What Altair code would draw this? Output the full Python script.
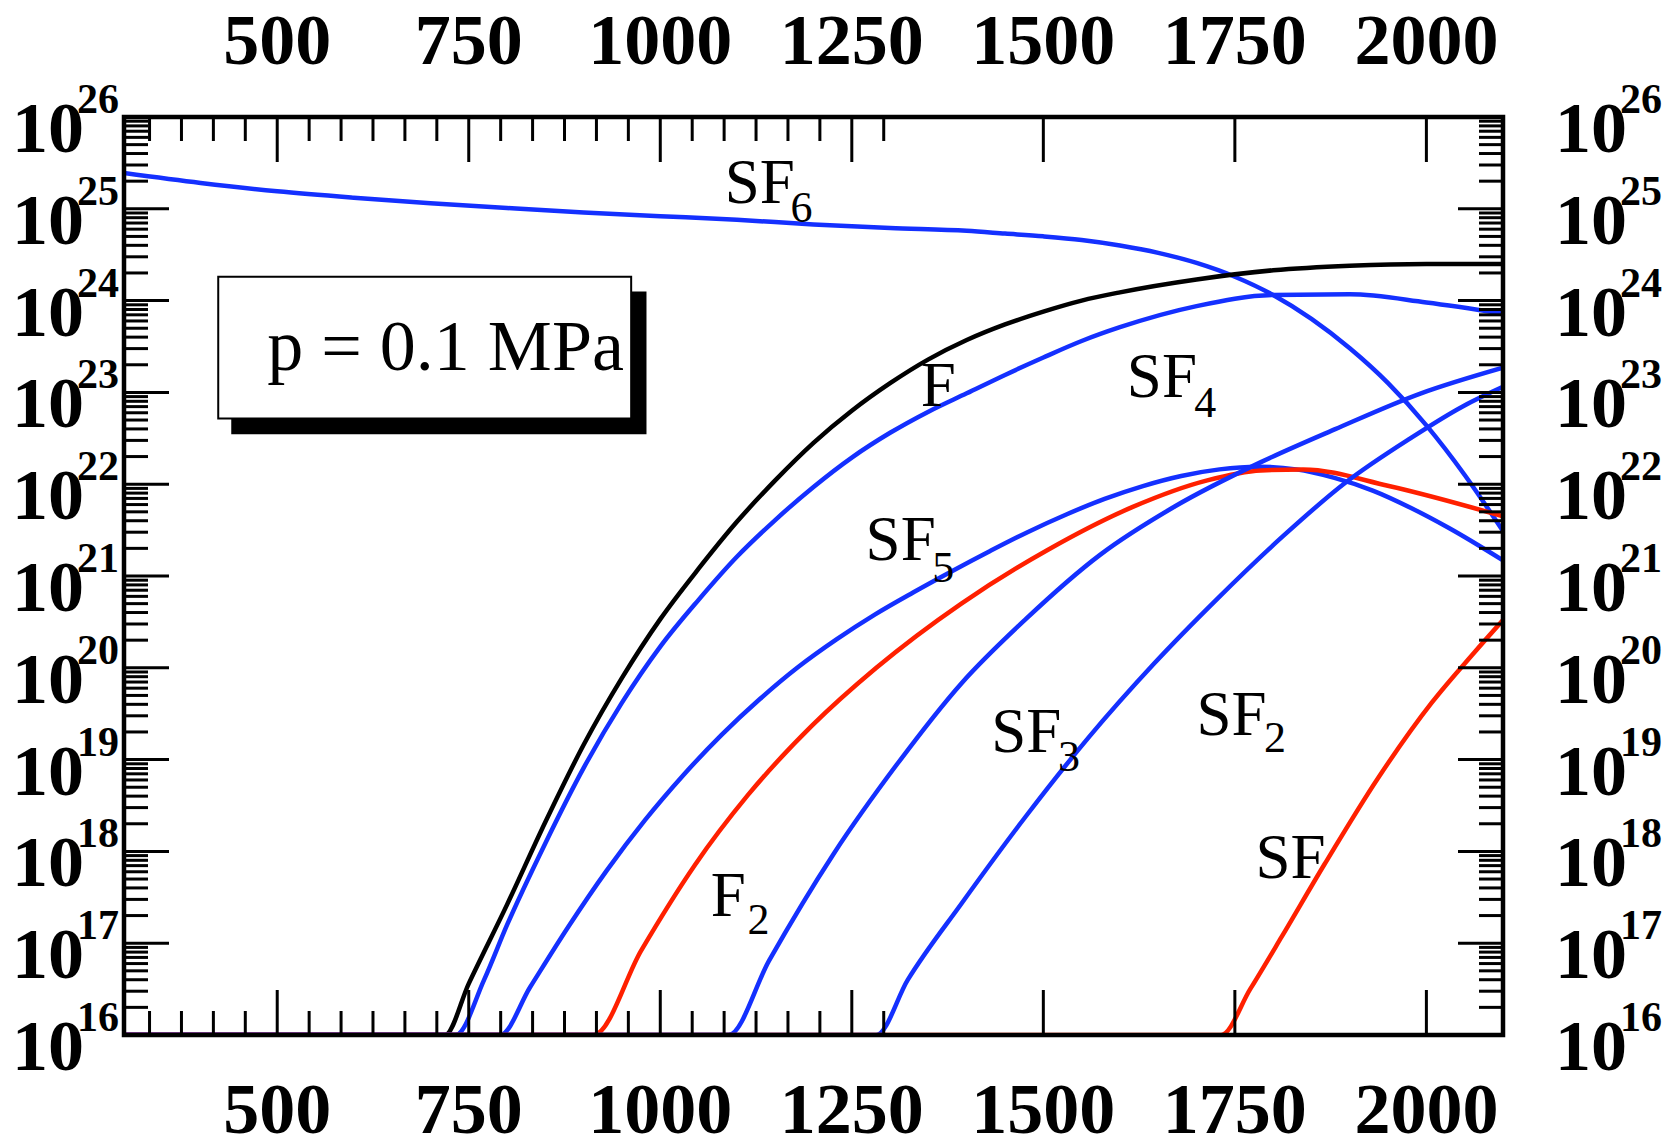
import altair as alt
import pandas as pd

# ---- species number densities (m^-3) versus temperature (K) ----
T_SF6 = [300, 400, 500, 600, 700, 800, 900, 1000, 1100, 1200, 1300, 1400, 1450, 1500, 1550, 1600,
         1650, 1700, 1750, 1800, 1850, 1900, 1950, 2000, 2050, 2100]
n_SF6 = [2.45e25, 1.91e25, 1.55e25, 1.32e25, 1.15e25, 1.02e25, 9.12e24, 8.32e24, 7.59e24, 6.76e24,
         6.17e24, 5.75e24, 5.37e24, 5.01e24, 4.57e24, 3.98e24, 3.31e24, 2.57e24, 1.82e24, 1.15e24,
         6.31e23, 3.02e23, 1.26e23, 4.37e22, 1.26e22, 3.09e21]

T_F = [300, 719, 750, 800, 850, 900, 950, 1000, 1050, 1100, 1150, 1200, 1250, 1300, 1350, 1400,
       1450, 1500, 1550, 1600, 1700, 1800, 1900, 2000, 2100]
n_F = [1e16, 1e16, 3.63e16, 2.63e17, 2.09e18, 1.45e19, 7.76e19, 3.39e20, 1.20e21, 3.89e21, 1.10e22,
       2.82e22, 6.31e22, 1.26e23, 2.29e23, 3.72e23, 5.50e23, 7.59e23, 1.0e24, 1.23e24, 1.70e24,
       2.14e24, 2.40e24, 2.51e24, 2.51e24]

T_SF4 = [300, 733, 770, 800, 850, 900, 950, 1000, 1050, 1100, 1150, 1200, 1250, 1300, 1350, 1400,
         1450, 1500, 1550, 1600, 1700, 1800, 1900, 2000, 2100]
n_SF4 = [1e16, 1e16, 3.98e16, 1.58e17, 1.23e18, 8.13e18, 4.17e19, 1.70e20, 5.50e20, 1.62e21, 4.07e21,
         9.33e21, 1.95e22, 3.63e22, 6.17e22, 9.77e22, 1.55e23, 2.40e23, 3.63e23, 5.13e23, 8.71e23,
         1.15e24, 1.17e24, 9.55e23, 7.24e23]

T_SF5 = [300, 791, 830, 880, 930, 980, 1030, 1080, 1130, 1180, 1230, 1280, 1330, 1380, 1430, 1480,
         1530, 1580, 1630, 1680, 1730, 1780, 1830, 1880, 1930, 1980, 2030, 2100]
n_SF5 = [1e16, 1e16, 3.31e16, 1.51e17, 6.17e17, 2.19e18, 6.76e18, 1.86e19, 4.57e19, 1.02e20, 2.04e20,
         3.80e20, 6.61e20, 1.12e21, 1.86e21, 3.02e21, 4.68e21, 6.92e21, 9.55e21, 1.23e22, 1.45e22,
         1.55e22, 1.45e22, 1.17e22, 8.51e21, 5.50e21, 3.31e21, 1.48e21]

T_F2 = [300, 913, 975, 1045, 1114, 1198, 1282, 1393, 1505, 1616, 1714, 1784, 1839, 1951, 2100]
n_F2 = [1e16, 1e16, 8.32e16, 7.08e17, 4.07e18, 2.34e19, 1.0e20, 5.01e20, 1.91e21, 5.62e21, 1.10e22,
        1.41e22, 1.45e22, 9.55e21, 4.47e21]

T_SF3 = [300, 1089, 1142, 1226, 1310, 1393, 1477, 1574, 1672, 1784, 1881, 1993, 2100]
n_SF3 = [1e16, 1e16, 6.46e16, 9.33e17, 9.12e18, 6.76e19, 3.39e20, 1.70e21, 5.75e21, 1.74e22, 3.98e22,
         9.77e22, 1.86e23]

T_SF2 = [300, 1282, 1323, 1393, 1477, 1560, 1644, 1728, 1811, 1895, 1979, 2048, 2100]
n_SF2 = [1e16, 1e16, 3.98e16, 2.69e17, 2.40e18, 1.78e19, 1.10e20, 5.75e20, 2.63e21, 1.05e22, 3.16e22,
         7.08e22, 1.15e23]

T_SF = [300, 1732, 1770, 1811, 1867, 1937, 2007, 2062, 2100]
n_SF = [1e16, 1e16, 3.16e16, 1.17e17, 7.24e17, 6.31e18, 4.17e19, 1.45e20, 3.31e20]

species = ["SF6", "F", "SF4", "SF5", "F2", "SF3", "SF2", "SF"]
series_T = [T_SF6, T_F, T_SF4, T_SF5, T_F2, T_SF3, T_SF2, T_SF]
series_n = [n_SF6, n_F, n_SF4, n_SF5, n_F2, n_SF3, n_SF2, n_SF]
colors = ["#1430ff", "#000000", "#1430ff", "#1430ff", "#ff2000", "#1430ff", "#1430ff", "#ff2000"]

# ---- curve labels: main text and subscript, anchored at (T, n) ----
lab_text = ["SF", "F", "SF", "SF", "SF", "SF", "F", "SF"]
lab_T = [1084, 1340, 1609, 1268, 1432, 1700, 1066, 1777]
lab_n = [1.15e25, 7.1e22, 8.9e22, 1.48e21, 1.2e19, 1.86e19, 2.0e17, 5.1e17]
sub_text = ["6", "4", "5", "3", "2", "2"]
sub_T = [1170, 1697, 1355, 1519, 1788, 1114]
sub_n = [7.2e24, 5.4e22, 8.5e20, 7.6e18, 1.2e19, 1.26e17]

# ---- axis ticks ----
x_major = [500, 750, 1000, 1250, 1500, 1750, 2000]
x_minor = [500 + k * 250 / 6 for k in range(-4, 20) if k % 6 != 0 and 300 < 500 + k * 250 / 6 < 2100]
exps = list(range(16, 27))
y_major = [10.0 ** e for e in range(17, 26)]
y_minor = [m * 10.0 ** e for e in range(16, 26) for m in range(2, 10)]

# ---- pressure annotation box ----
box_T = [423, 962]
box_n = [1.82e24, 5.2e22]
shadow_T = [440, 982]
shadow_n = [1.26e24, 3.5e22]
note_T = 487
note_n = 1.74e23
note_text = "p = 0.1 MPa"

W, H = 1379, 918
MAJ, MIN = 45, 24
SERIF = "Liberation Serif"

xs = alt.Scale(domain=[300, 2100], nice=False, zero=False)
ys = alt.Scale(type="log", domain=[1e16, 1e26], nice=False)

rows = []
for s, ts, ns in zip(species, series_T, series_n):
    for i, (t, n) in enumerate(zip(ts, ns)):
        rows.append({"species": s, "T": t, "n": n, "i": i})
curves = pd.DataFrame(rows)

X = alt.X("T:Q", scale=xs, axis=None)
Y = alt.Y("n:Q", scale=ys, axis=None)

lines = alt.Chart(curves).mark_line(strokeWidth=4.5, interpolate="monotone", clip=True).encode(
    x=X, y=Y,
    color=alt.Color("species:N", scale=alt.Scale(domain=species, range=colors), legend=None),
    order="i:Q",
)

xmaj = pd.DataFrame({"T": x_major})
xmin = pd.DataFrame({"T": x_minor})
ymaj = pd.DataFrame({"n": y_major})
ymin = pd.DataFrame({"n": y_minor})

def xticks(df, length):
    bot = alt.Chart(df).mark_rule(strokeWidth=3, color="black").encode(
        x=X, y=alt.value(H), y2=alt.value(H - length))
    top = alt.Chart(df).mark_rule(strokeWidth=3, color="black").encode(
        x=X, y=alt.value(0), y2=alt.value(length))
    return [bot, top]

def yticks(df, length):
    left = alt.Chart(df).mark_rule(strokeWidth=3, color="black").encode(
        y=Y, x=alt.value(0), x2=alt.value(length))
    right = alt.Chart(df).mark_rule(strokeWidth=3, color="black").encode(
        y=Y, x=alt.value(W), x2=alt.value(W - length))
    return [left, right]

ticks = xticks(xmaj, MAJ) + xticks(xmin, MIN) + yticks(ymaj, MAJ) + yticks(ymin, MIN)

# plot frame drawn over the curves
frame = alt.Chart(pd.DataFrame({"k": [0]})).mark_rect(
    fill=None, stroke="black", strokeWidth=4.5).encode(
    x=alt.value(0), x2=alt.value(W), y=alt.value(0), y2=alt.value(H))

# numeric x labels, top and bottom
xlab = pd.DataFrame({"T": x_major, "label": [str(v) for v in x_major]})
lab_style = dict(font=SERIF, fontWeight="bold", fontSize=72, color="black", align="center",
                 baseline="alphabetic")
xlab_bot = alt.Chart(xlab).mark_text(dy=98, **lab_style).encode(x=X, y=alt.value(H), text="label:N")
xlab_top = alt.Chart(xlab).mark_text(dy=-53, **lab_style).encode(x=X, y=alt.value(0), text="label:N")

# power-of-ten y labels, left and right
ylab = pd.DataFrame({"n": [10.0 ** e for e in exps], "base": ["10"] * len(exps),
                     "exp": [str(e) for e in exps]})
big = dict(font=SERIF, fontWeight="bold", fontSize=72, color="black", baseline="alphabetic")
small = dict(font=SERIF, fontWeight="bold", fontSize=42, color="black", baseline="alphabetic")
yl_base = alt.Chart(ylab).mark_text(align="right", dx=-40, dy=35, **big).encode(
    y=Y, x=alt.value(0), text="base:N")
yl_exp = alt.Chart(ylab).mark_text(align="right", dx=-5, dy=-4, **small).encode(
    y=Y, x=alt.value(0), text="exp:N")
yr_base = alt.Chart(ylab).mark_text(align="left", dx=52, dy=35, **big).encode(
    y=Y, x=alt.value(W), text="base:N")
yr_exp = alt.Chart(ylab).mark_text(align="left", dx=117, dy=-4, **small).encode(
    y=Y, x=alt.value(W), text="exp:N")

# curve labels
labs = pd.DataFrame({"T": lab_T, "n": lab_n, "t": lab_text})
subs = pd.DataFrame({"T": sub_T, "n": sub_n, "t": sub_text})
curve_lab = alt.Chart(labs).mark_text(font=SERIF, fontSize=63, color="black", align="left",
                                      baseline="alphabetic").encode(x=X, y=Y, text="t:N")
curve_sub = alt.Chart(subs).mark_text(font=SERIF, fontSize=44, color="black", align="left",
                                      baseline="alphabetic").encode(x=X, y=Y, text="t:N")

# pressure box with drop shadow
shadow = alt.Chart(pd.DataFrame({"T": [shadow_T[0]], "T2": [shadow_T[1]],
                                 "n": [shadow_n[0]], "n2": [shadow_n[1]]})).mark_rect(
    color="black").encode(x=X, x2="T2:Q", y=Y, y2="n2:Q")
box = alt.Chart(pd.DataFrame({"T": [box_T[0]], "T2": [box_T[1]],
                              "n": [box_n[0]], "n2": [box_n[1]]})).mark_rect(
    fill="white", stroke="black", strokeWidth=2).encode(x=X, x2="T2:Q", y=Y, y2="n2:Q")
note = alt.Chart(pd.DataFrame({"T": [note_T], "n": [note_n], "t": [note_text]})).mark_text(
    font=SERIF, fontSize=72, color="black", align="left", baseline="alphabetic").encode(
    x=X, y=Y, text="t:N")

chart = alt.layer(
    lines, *ticks, frame, shadow, box, note, curve_lab, curve_sub,
    xlab_bot, xlab_top, yl_base, yl_exp, yr_base, yr_exp,
).properties(
    width=W, height=H, background="white",
    autosize=alt.AutoSizeParams(type="none"),
    padding={"left": 124, "top": 117, "right": 172, "bottom": 106},
).configure_view(stroke=None)

chart.save("out.html", embed_options={"renderer": "svg", "actions": False})
